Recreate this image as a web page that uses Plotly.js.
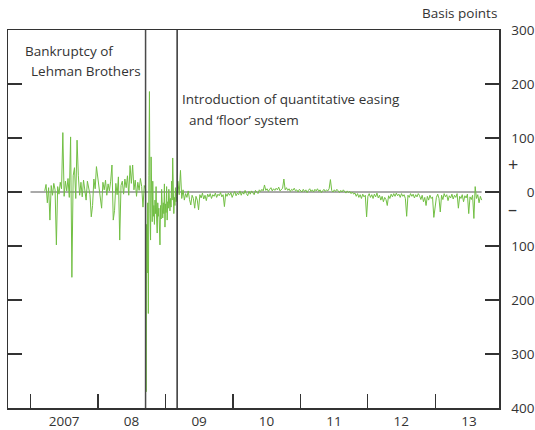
<!DOCTYPE html>
<html>
<head>
<meta charset="utf-8">
<script src="https://cdn.plot.ly/plotly-3.0.1.min.js"></script>
<style>html,body{margin:0;padding:0;background:#fff;}#chart{width:535px;height:430px;}</style>
</head>
<body>
<div id="chart"></div>
<script>
// Readings of the spread (basis points): weekly, except every 3 days in the crisis months
const v2007 = [2,14,-20,8,-52,12,-6,16,4,-98,10,-4,18,6,110,-8,20,2,25,-10,102,-158,30,45,-12,96,30,-6,18,-9,22,4,-15,20,8,-5,-46,-25,24,6,47];
const v2008 = [10,-8,-30,18,4,22,-6,15,2,20,50,-52,-34,16,-5,28,-89,12,20,-4,24,8,30,-6,49,16,50,4,22,-8,18,3,25,10,-28,12];
const vCrisis = [5,-370,-60,-150,-20,-225,30,186,-40,-89,65,-30,-55,20,-45,-25,-60,-15,-40,10,-50,-76,-20,-45,-30,-55,-98,-25,-50,5,
                 -35,-48,-20,-40,15,-65,-22,-38,10,-52,-18,-30,5,-25,-35,-12,-28,20,-15,63,-20,-40,-10,-25,8,-18,-8,12];
const v2009 = [20,-5,40,-12,4,-15,-3,-10,2,-14,-24,-6,-12,-30,-8,-15,-33,-5,-11,-2,-13,-6,-16,-4,-9,-3,-12,-5,-8,-2,-10,-4,-7,-1,-9,-5,-27,-3,-8,-2,-6,-1,-10];
const v2010 = [-4,1,-7,-2,-5,2,-6,0,-4,3,-3,-7,1,-4,2,-2,-5,3,0,-3,4,1,5,2,13,3,6,1,5,8,2,6,3,7,4,9,2,5,7,24,4,8,3,6,1,5,3,7,2,4,0,5];
const v2011 = [3,0,5,1,4,-1,3,6,1,4,0,5,2,6,1,4,-1,3,5,1,4,2,6,23,3,0,4,1,5,2,-1,3,0,4,1,-2,2,-1,1,-3,0,-4,-2,-8,-3,-10,-5,-12,-4,-9,-6,-46];
const v2012 = [-8,-3,-10,-5,-12,-4,-9,-2,-11,-6,-15,-8,-18,-10,-14,-25,-7,-12,-4,-9,-3,-8,-2,-7,-4,-10,-3,-8,-5,-12,-45,-6,-10,-3,-8,-4,-11,-5,-9,-3,-7,-14,-6,-18,-10,-25,-8,-15,-6,-12,-9,-47];
const v2013 = [-10,-4,-12,-37,-6,-14,-3,-9,-5,-16,-7,-11,-4,-13,-6,-10,-3,-30,-8,-12,-5,-18,-7,-11,-4,-40,-9,-14,-6,-49,10,-12,-5,-20,-8,-15];
const segmentStarts = ['2007-03-19','2008-01-07','2008-09-15','2009-03-09','2010-01-04','2011-01-03','2012-01-02','2013-01-07'];
const segmentStepDays = [7,7,3,7,7,7,7,7];
const segmentValues = [v2007, v2008, vCrisis, v2009, v2010, v2011, v2012, v2013];

const yTickVals = [300,200,100,0,-100,-200,-300,-400];
const yTickText = ['300','200','100','\u2007\u20070','100','200','300','400'];
const xTickVals = ['2007-01-01','2008-01-01','2009-01-01','2010-01-01','2011-01-01','2012-01-01','2013-01-01'];
const xLabelVals = ['2007-07-02','2008-07-01','2009-07-02','2010-07-02','2011-07-02','2012-07-01','2013-07-02'];
const xLabelText = ['2007','08','09','10','11','12','13'];
const lehmanDate = '2008-09-15';
const qeDate = '2009-03-05';

const dates = [], values = [];
segmentValues.forEach((arr, k) => {
  const start = new Date(segmentStarts[k] + 'T00:00:00Z').getTime();
  arr.forEach((v, i) => {
    dates.push(new Date(start + i * segmentStepDays[k] * 86400000).toISOString().slice(0, 10));
    values.push(v);
  });
});

const fontFam = '"Open Sans", "Noto Sans", sans-serif';
const txt = '#333333';
const fs = 13.5;

const traces = [
  {x: dates, y: values, type: 'scatter', mode: 'lines',
   line: {color: '#72BF44', width: 1}, hoverinfo: 'skip', showlegend: false},
  {x: xLabelVals, y: xLabelVals.map(() => null), xaxis: 'x2', type: 'scatter', mode: 'lines',
   hoverinfo: 'skip', showlegend: false}
];

const layout = {
  width: 535, height: 430,
  margin: {l: 8, r: 36, t: 30, b: 22},
  paper_bgcolor: '#fff', plot_bgcolor: '#fff',
  font: {family: fontFam, size: fs, color: txt},
  showlegend: false,
  xaxis: {
    type: 'date', range: ['2006-09-01', '2013-12-12'],
    tickmode: 'array', tickvals: xTickVals, showticklabels: false,
    ticks: 'inside', ticklen: 14, tickwidth: 1.5, tickcolor: '#333',
    showline: true, linecolor: '#333', linewidth: 1.5, mirror: true,
    showgrid: false, zeroline: false
  },
  xaxis2: {
    type: 'date', range: ['2006-09-01', '2013-12-12'], overlaying: 'x', side: 'bottom',
    tickmode: 'array', tickvals: xLabelVals, ticktext: xLabelText,
    ticks: '', showline: false, showgrid: false, zeroline: false,
    ticklabelstandoff: 3,
    tickfont: {family: fontFam, size: fs, color: txt}
  },
  yaxis: {
    range: [-400, 300], side: 'right',
    tickmode: 'array', tickvals: yTickVals, ticktext: yTickText,
    ticks: 'inside', ticklen: 14, tickwidth: 1.5, tickcolor: '#333',
    ticklabelstandoff: 8,
    showline: true, linecolor: '#333', linewidth: 1.5, mirror: 'ticks',
    showgrid: false, zeroline: false,
    tickfont: {family: fontFam, size: fs, color: txt}
  },
  shapes: [
    {type: 'line', xref: 'x', yref: 'y', x0: '2007-01-01', x1: '2013-09-09', y0: 0, y1: 0,
     line: {color: '#555', width: 1}, layer: 'below'},
    {type: 'line', xref: 'x', yref: 'paper', x0: lehmanDate, x1: lehmanDate, y0: 0, y1: 1,
     line: {color: '#4a4a4a', width: 1.5}},
    {type: 'line', xref: 'x', yref: 'paper', x0: qeDate, x1: qeDate, y0: 0, y1: 1,
     line: {color: '#333', width: 1.5}}
  ],
  annotations: [
    {text: 'Basis points', xref: 'paper', yref: 'paper', x: 1, y: 1, xanchor: 'right', yanchor: 'bottom',
     yshift: 6, showarrow: false, font: {family: fontFam, size: fs, color: txt}},
    {text: 'Bankruptcy of', xref: 'x', yref: 'y', x: '2006-11-22', y: 261, xanchor: 'left', yanchor: 'middle',
     showarrow: false, font: {family: fontFam, size: fs, color: txt}},
    {text: 'Lehman Brothers', xref: 'x', yref: 'y', x: '2006-12-22', y: 224, xanchor: 'left', yanchor: 'middle',
     showarrow: false, font: {family: fontFam, size: fs, color: txt}},
    {text: 'Introduction of quantitative easing', xref: 'x', yref: 'y', x: '2009-03-19', y: 172, xanchor: 'left', yanchor: 'middle',
     showarrow: false, font: {family: fontFam, size: fs, color: txt}},
    {text: 'and \u2018floor\u2019 system', xref: 'x', yref: 'y', x: '2009-04-28', y: 134, xanchor: 'left', yanchor: 'middle',
     showarrow: false, font: {family: fontFam, size: fs, color: txt}},
    {text: '+', xref: 'paper', yref: 'y', x: 1.028, y: 52, xanchor: 'center', yanchor: 'middle',
     showarrow: false, font: {family: fontFam, size: 18, color: txt}},
    {text: '\u2013', xref: 'paper', yref: 'y', x: 1.028, y: -32, xanchor: 'center', yanchor: 'middle',
     showarrow: false, font: {family: fontFam, size: 18, color: txt}}
  ]
};

Plotly.newPlot('chart', traces, layout, {displayModeBar: false, staticPlot: true});
</script>
</body>
</html>
